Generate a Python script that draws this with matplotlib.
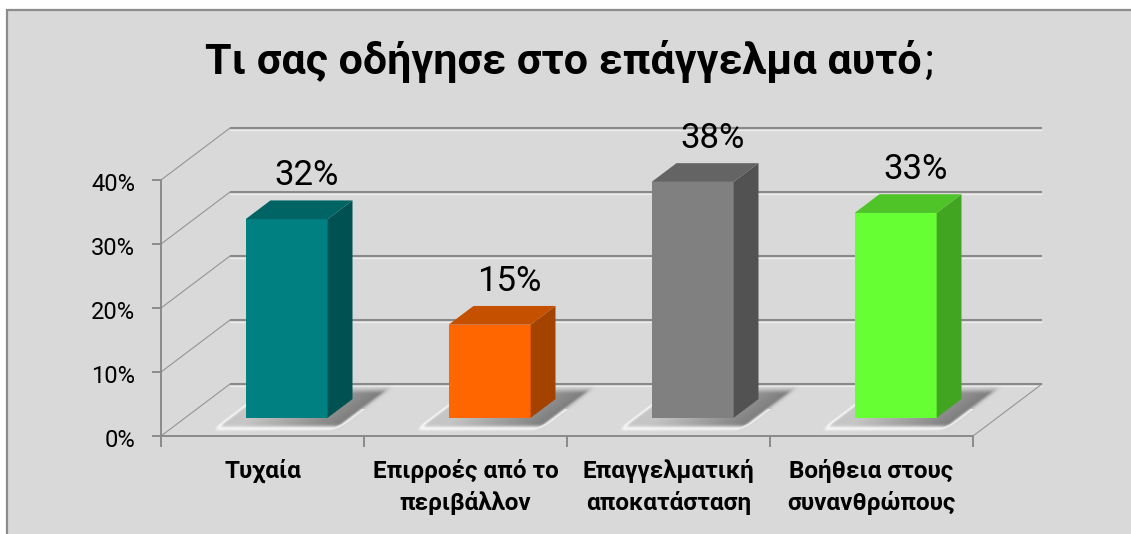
import numpy as np
import matplotlib
matplotlib.use("Agg")
import matplotlib.pyplot as plt
from matplotlib.patches import Polygon, Rectangle

# ---- data -------------------------------------------------------------
categories = ["Τυχαία",
              "Επιρροές από το\nπεριβάλλον",
              "Επαγγελματική\nαποκατάσταση",
              "Βοήθεια στους\nσυνανθρώπους"]
values = [32, 15, 38, 33]
y_ticks = [0, 10, 20, 30, 40]
y_tick_labels = ["0%", "10%", "20%", "30%", "40%"]
value_labels = ["32%", "15%", "38%", "33%"]
front_colors = ["#008080", "#FF6600", "#808080", "#66FF33"]
side_colors = ["#005252", "#A44200", "#525252", "#42A521"]
top_colors = ["#006464", "#C45000", "#646464", "#4EC428"]
title_text = "Τι σας οδήγησε στο επάγγελμα αυτό"

# ---- canvas / geometry (pixels) -------------------------------------
W, H = 1131, 534
X0_PX, Y0_PX = 161, 436          # origin of the front axes, from top-left
CAT_PX, PCT_PX = 203, 6.4        # one category, one percentage point
DEPTH_X_PX, DEPTH_Y_PX = 69, 52  # oblique offset of the back wall
FONT = ["Roboto", "DejaVu Sans"]

DX = DEPTH_X_PX / CAT_PX
DY = DEPTH_Y_PX / PCT_PX
D0, D1 = 0.35, 0.71              # depth span occupied by the bars
HALF_W = 0.202                   # half bar width in category units
PERSP = 0.97                     # foreshortening at the bar plane


def px_x(p):
    return p / CAT_PX


def px_y(p):
    return p / PCT_PX


def proj(x, y, d):
    return (x + d * DX, y + d * DY)


fig = plt.figure(figsize=(W / 100, H / 100), dpi=100)
fig.patch.set_facecolor("white")
ax = fig.add_axes([0, 0, 1, 1])
ax.set_axis_off()

# chart area panel
ax.add_patch(Rectangle((7 / W, -0.05), 1.1, 1.05 - 10 / H,
                       transform=fig.transFigure, facecolor="#d9d9d9",
                       edgecolor="#8c8c8c", linewidth=1.6, zorder=0))

n = len(values)
grid_c = "#8a8a8a"

# back wall gridlines with a light emboss underneath
for t in y_ticks:
    a = proj(0, t, 1)
    b = proj(n, t, 1)
    ax.plot([a[0], b[0]], [a[1] - px_y(1.6), b[1] - px_y(1.6)],
            color="white", lw=0.9, alpha=0.55, zorder=1, solid_capstyle="butt")
    ax.plot([a[0], b[0]], [a[1], b[1]], color=grid_c, lw=1.5, zorder=2,
            solid_capstyle="butt")
    # side wall diagonal
    ax.plot([0, a[0]], [t, a[1]], color="#959595", lw=0.8, zorder=2)
    # tick mark on the value axis
    ax.plot([-px_x(8), 0], [t, t], color=grid_c, lw=1.4, zorder=2)

# value axis, floor edges, category ticks
ax.plot([0, 0], [0, y_ticks[-1]], color=grid_c, lw=1.4, zorder=3)
ax.plot([0, n], [0, 0], color=grid_c, lw=1.4, zorder=3)
r = proj(n, 0, 1)
ax.plot([n, r[0]], [0, r[1]], color="#959595", lw=0.8, zorder=2)
for k in range(n + 1):
    ax.plot([k, k], [0, -px_y(10)], color=grid_c, lw=1.4, zorder=3)

# soft floor shadows under the bars
gx = np.linspace(-0.1, n + 0.5, 1500)
gy = np.linspace(-0.5, DY + 0.5, 120)
GX, GY = np.meshgrid(gx, gy)
dep = GY / DY
u = GX - dep * DX
a_sh = np.zeros_like(GX)
a_wh = np.zeros_like(GX)
for i in range(n):
    c = i + 0.5
    cu, hu = c + 0.02, HALF_W + 0.07
    cd, hd = 0.52, 0.27
    du = np.maximum(np.abs(u - cu) - hu, 0) * CAT_PX
    dd = np.maximum(np.abs(dep - cd) - hd, 0) * DEPTH_Y_PX
    dist = np.hypot(du, dd)
    ramp = np.clip((u - (c - HALF_W - 0.1)) / (2 * HALF_W + 0.25), 0.2, 1.0)
    a_sh = np.maximum(a_sh, 0.7 * ramp * np.exp(-(dist / 5.0) ** 2))
    front = ((dep < cd) | (u < cu - hu * 0.6)).astype(float)
    a_wh = np.maximum(a_wh, 0.8 * front * np.exp(-((dist - 6.0) / 2.0) ** 2))
inside = (dep >= 0) & (dep <= 1) & (u >= 0) & (u <= n)
a_sh *= inside
a_wh *= inside
a_out = a_wh + a_sh * (1 - a_wh)
g = np.where(a_out > 0, (a_wh * 1.0 + a_sh * (1 - a_wh) * 0.3) / np.maximum(a_out, 1e-6), 0)
img = np.dstack([g, g, g, a_out])
ax.imshow(img, extent=(gx[0], gx[-1], gy[0], gy[-1]), origin="lower",
          aspect="auto", interpolation="bilinear", zorder=4)

# bars
for i, v in enumerate(values):
    c = i + 0.5
    h = v * PERSP
    xl, xr = c - HALF_W, c + HALF_W
    fl = proj(xl, 0, D0)
    fr = proj(xr, 0, D0)
    top_y = fl[1] + h
    z = 5 + i
    ax.add_patch(Rectangle((fl[0], fl[1]), fr[0] - fl[0], h,
                           facecolor=front_colors[i], edgecolor="none", zorder=z))
    br = proj(xr, 0, D1)
    ax.add_patch(Polygon([(fr[0], fr[1]), (br[0], br[1]),
                          (br[0], br[1] + h), (fr[0], top_y)],
                         closed=True, facecolor=side_colors[i],
                         edgecolor="none", zorder=z))
    bl = proj(xl, 0, D1)
    ax.add_patch(Polygon([(fl[0], top_y), (fr[0], top_y),
                          (br[0], br[1] + h), (bl[0], bl[1] + h)],
                         closed=True, facecolor=top_colors[i],
                         edgecolor="none", zorder=z))
    # value label
    ax.text(proj(c, 0, D0)[0] + px_x(20), br[1] + h + px_y(15), value_labels[i],
            ha="center", va="baseline", fontsize=25, family=FONT,
            color="black", zorder=20)

# value axis labels
for t, lab in zip(y_ticks, y_tick_labels):
    ax.text(-px_x(26), t - px_y(11), lab, ha="right", va="baseline",
            fontsize=17, family=FONT, color="black")

# category labels, one text per line
for i, lab in enumerate(categories):
    for j, line in enumerate(lab.split("\n")):
        ax.text(i + 0.5, -px_y(42 + 32 * j), line, ha="center", va="baseline",
                fontsize=17.5, fontweight="bold", family=FONT, color="black")

ax.set_xlim(-X0_PX / CAT_PX, (W - X0_PX) / CAT_PX)
ax.set_ylim(-(H - Y0_PX) / PCT_PX, Y0_PX / PCT_PX)

# title: bold text followed by a regular question mark
renderer = fig.canvas.get_renderer()
ty = 1 - 74 / H
t1 = fig.text(0, ty, title_text, fontsize=31, fontweight="bold",
              family=FONT, va="baseline", ha="left")
t2 = fig.text(0, ty, ";", fontsize=31, family=FONT, va="baseline", ha="left")
w1 = t1.get_window_extent(renderer).width
w2 = t2.get_window_extent(renderer).width
x_start = 569 - (w1 + 2 + w2) / 2
t1.set_x(x_start / W)
t2.set_x((x_start + w1 + 2) / W)

fig.savefig("out.png", dpi=100)
